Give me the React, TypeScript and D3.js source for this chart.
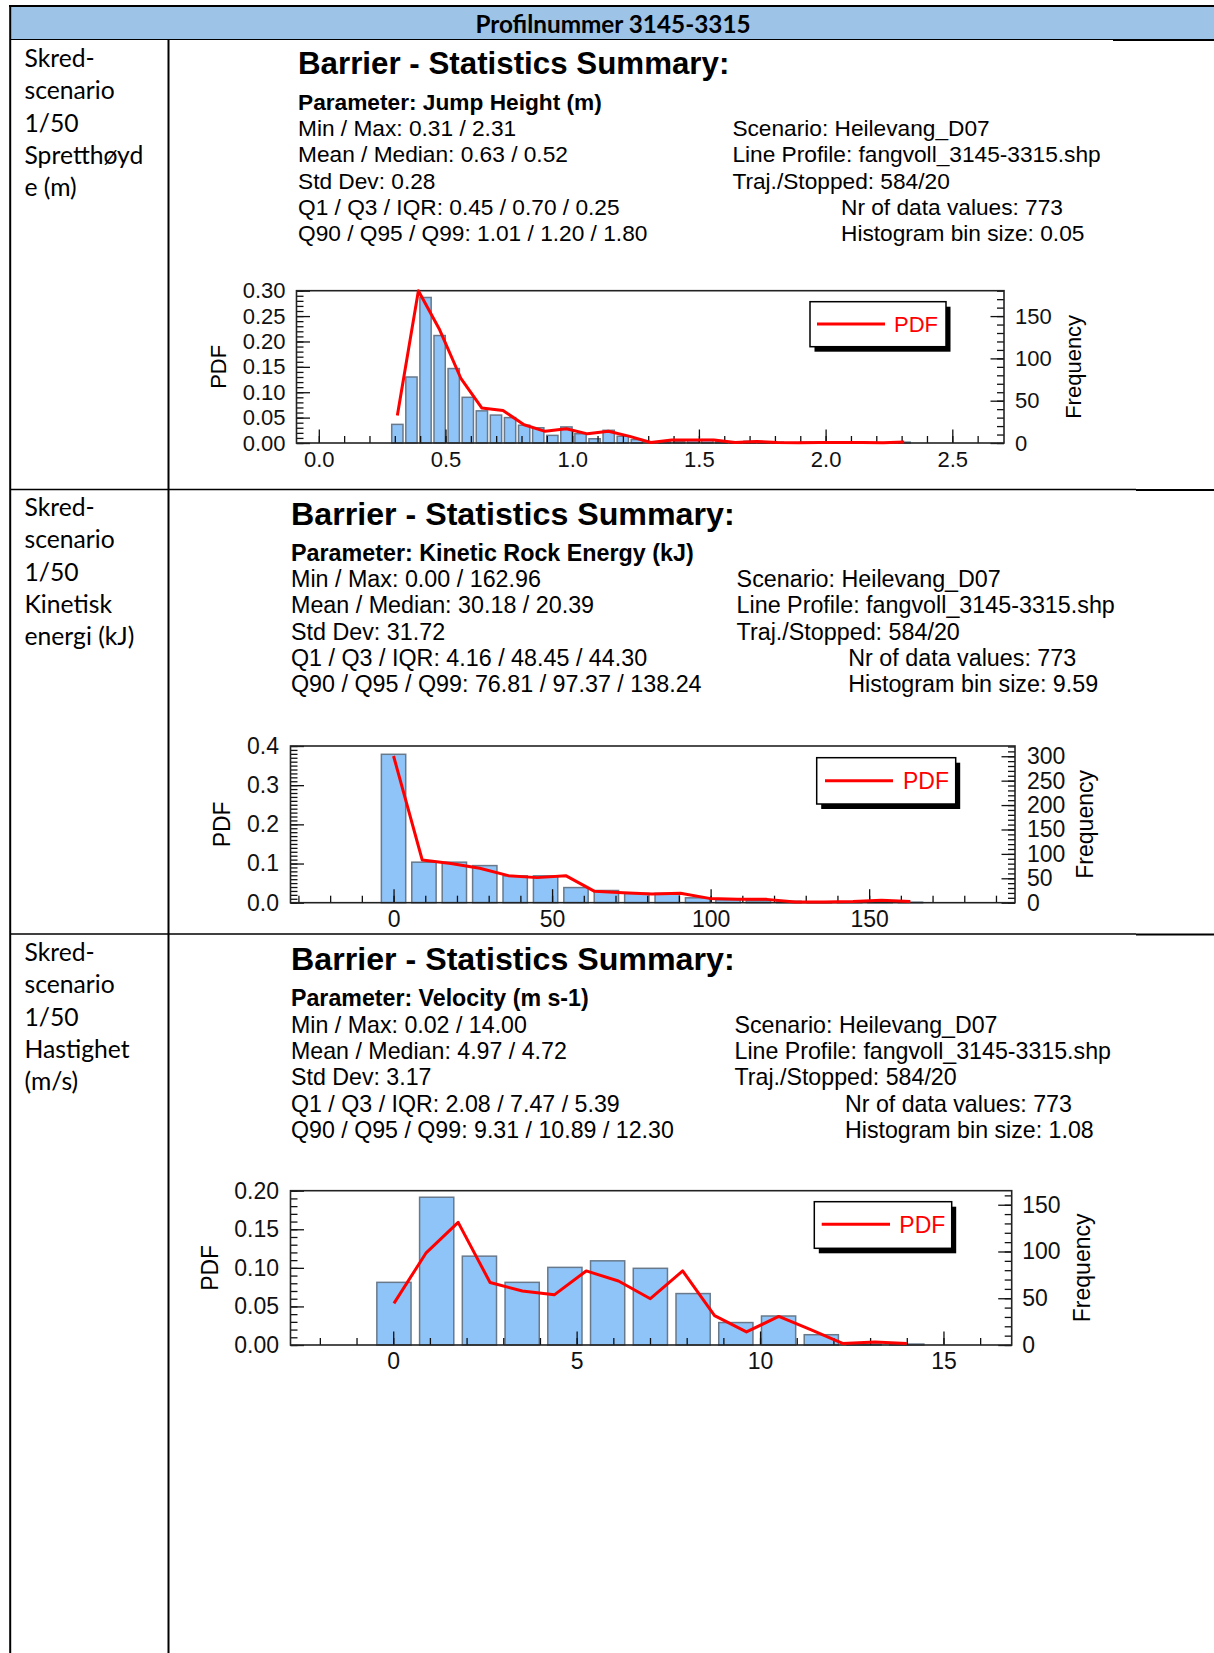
import React, { useEffect, useRef } from "react";
import * as d3 from "d3";

const W = 1214;
const H = 1653;

// ---------- table ----------
const headerText = "Profilnummer 3145-3315";
const rowLabels1 = ["Skred-", "scenario", "1/50", "Spretthøyd", "e (m)"];
const rowLabels2 = ["Skred-", "scenario", "1/50", "Kinetisk", "energi (kJ)"];
const rowLabels3 = ["Skred-", "scenario", "1/50", "Hastighet", "(m/s)"];

// ---------- shared chart text ----------
const chartTitle = "Barrier - Statistics Summary:";
const scenarioLines = [
  "Scenario: Heilevang_D07",
  "Line Profile: fangvoll_3145-3315.shp",
  "Traj./Stopped: 584/20",
];
const legendLabel = "PDF";
const leftAxisTitle = "PDF";
const rightAxisTitle = "Frequency";

// ---------- chart 1: jump height ----------
const jumpParam = "Parameter: Jump Height (m)";
const jumpStats = [
  "Min / Max: 0.31 / 2.31",
  "Mean / Median: 0.63 / 0.52",
  "Std Dev: 0.28",
  "Q1 / Q3 / IQR: 0.45 / 0.70 / 0.25",
  "Q90 / Q95 / Q99: 1.01 / 1.20 / 1.80",
];
const jumpCounts = ["Nr of data values: 773", "Histogram bin size: 0.05"];
const jumpBinStart = 0.31;
const jumpBinWidth = 0.0556;
const jumpFreq = [22, 78, 172, 127, 88, 54, 38, 33, 30, 21, 18, 9, 19, 11, 5, 15, 8, 4, 0, 2, 2, 3, 4, 2, 1, 2, 1, 1, 0, 1, 1, 0, 1, 1, 0, 0, 1];
const jumpPdfX = [0.31, 0.393, 0.477, 0.56, 0.643, 0.727, 0.81, 0.893, 0.977, 1.06, 1.143, 1.227, 1.31, 1.393, 1.477, 1.56, 1.643, 1.727, 1.81, 1.893, 1.977, 2.06, 2.143, 2.227, 2.31];
const jumpPdfY = [0.054, 0.3, 0.223, 0.128, 0.069, 0.064, 0.036, 0.023, 0.028, 0.018, 0.023, 0.013, 0.001, 0.006, 0.006, 0.006, 0.001, 0.003, 0.001, 0.0005, 0.001, 0.001, 0.001, 0.0005, 0.002];
const jumpXTicks = [0, 0.5, 1.0, 1.5, 2.0, 2.5];
const jumpPdfTicks = [0, 0.05, 0.1, 0.15, 0.2, 0.25, 0.3];
const jumpFreqTicks = [0, 50, 100, 150];

// ---------- chart 2: kinetic energy ----------
const energyParam = "Parameter: Kinetic Rock Energy (kJ)";
const energyStats = [
  "Min / Max: 0.00 / 162.96",
  "Mean / Median: 30.18 / 20.39",
  "Std Dev: 31.72",
  "Q1 / Q3 / IQR: 4.16 / 48.45 / 44.30",
  "Q90 / Q95 / Q99: 76.81 / 97.37 / 138.24",
];
const energyCounts = ["Nr of data values: 773", "Histogram bin size: 9.59"];
const energyBinStart = 0;
const energyBinWidth = 9.59;
const energyFreq = [304, 83, 83, 76, 55, 55, 31, 25, 19, 19, 10, 6, 4, 3, 1, 1, 2, 1];
const energyPdfX = [0, 9.05, 18.1, 27.2, 36.2, 45.3, 54.3, 63.4, 72.4, 81.5, 90.5, 99.6, 108.6, 117.7, 126.7, 135.8, 144.9, 153.9, 163.0];
const energyPdfY = [0.3745, 0.109, 0.1, 0.088, 0.069, 0.064, 0.069, 0.029, 0.0255, 0.022, 0.024, 0.011, 0.009, 0.0085, 0.002, 0.002, 0.003, 0.006, 0.003];
const energyXTicks = [0, 50, 100, 150];
const energyPdfTicks = [0, 0.1, 0.2, 0.3, 0.4];
const energyFreqTicks = [0, 50, 100, 150, 200, 250, 300];

// ---------- chart 3: velocity ----------
const velParam = "Parameter: Velocity (m s-1)";
const velStats = [
  "Min / Max: 0.02 / 14.00",
  "Mean / Median: 4.97 / 4.72",
  "Std Dev: 3.17",
  "Q1 / Q3 / IQR: 2.08 / 7.47 / 5.39",
  "Q90 / Q95 / Q99: 9.31 / 10.89 / 12.30",
];
const velCounts = ["Nr of data values: 773", "Histogram bin size: 1.08"];
const velBinStart = 0.02;
const velBinWidth = 1.165;
const velFreq = [67, 158, 95, 67, 83, 90, 82, 55, 24, 31, 11, 1, 1];
const velPdfX = [0.02, 0.89, 1.77, 2.64, 3.52, 4.39, 5.26, 6.14, 7.01, 7.89, 8.76, 9.63, 10.51, 11.38, 12.25, 13.13, 14.0];
const velPdfY = [0.054, 0.119, 0.159, 0.081, 0.07, 0.065, 0.096, 0.083, 0.06, 0.096, 0.038, 0.017, 0.037, 0.02, 0.002, 0.004, 0.002];
const velXTicks = [0, 5, 10, 15];
const velPdfTicks = [0, 0.05, 0.1, 0.15, 0.2];
const velFreqTicks = [0, 50, 100, 150];

const CHART_FONT = "'Liberation Sans', Arial, Helvetica, sans-serif";
const TABLE_FONT = "Lato, 'Open Sans', sans-serif";

type Cfg = {
  param: string;
  stats: string[];
  counts: string[];
  binStart: number;
  binWidth: number;
  freq: number[];
  pdfX: number[];
  pdfY: number[];
  xTicks: number[];
  xMinor: number[];
  pdfTicks: number[];
  pdfMinor: number[];
  freqTicks: number[];
  freqMinor: number[];
  xFmt: (v: number) => string;
  yFmt: (v: number) => string;
  xDomain: [number, number];
  pdfDomain: [number, number];
  freqDomain: [number, number];
  left: number; right: number; top: number; bottom: number;
  textX: number; titleY: number; paramY: number; statsY: number[];
  infoX: number; infoX2: number;
  titleSize: number; textSize: number; tickSize: number;
  xLabelBase: number; leftPad: number; rightPad: number;
  pdfTitleX: number; freqTitleX: number;
  legend: { x: number; y: number; w: number; h: number; lx1: number; lx2: number; ly: number; tx: number; ty: number };
};

const charts: Cfg[] = [
  {
    param: jumpParam, stats: jumpStats, counts: jumpCounts,
    binStart: jumpBinStart, binWidth: jumpBinWidth, freq: jumpFreq,
    pdfX: jumpPdfX, pdfY: jumpPdfY,
    xTicks: jumpXTicks, xMinor: d3.range(0, 2.66, 0.1),
    pdfTicks: jumpPdfTicks, pdfMinor: d3.range(0, 0.3001, 0.01),
    freqTicks: jumpFreqTicks, freqMinor: d3.range(0, 181, 10),
    xFmt: d3.format(".1f"), yFmt: d3.format(".2f"),
    xDomain: [-0.088, 2.704], pdfDomain: [0, 0.3], freqDomain: [0, 180],
    left: 296.5, right: 1004, top: 290.7, bottom: 443,
    textX: 298, titleY: 74, paramY: 110, statsY: [136, 162.3, 188.6, 215, 241.3],
    infoX: 732.4, infoX2: 841,
    titleSize: 31.3, textSize: 22.7, tickSize: 22,
    xLabelBase: 467, leftPad: 11, rightPad: 11,
    pdfTitleX: 226, freqTitleX: 1081,
    legend: { x: 810, y: 301.7, w: 136, h: 45, lx1: 817, lx2: 885, ly: 324, tx: 894, ty: 332 },
  },
  {
    param: energyParam, stats: energyStats, counts: energyCounts,
    binStart: energyBinStart, binWidth: energyBinWidth, freq: energyFreq,
    pdfX: energyPdfX, pdfY: energyPdfY,
    xTicks: energyXTicks, xMinor: d3.range(-30, 191, 10),
    pdfTicks: energyPdfTicks, pdfMinor: d3.range(0, 0.4001, 0.01),
    freqTicks: energyFreqTicks, freqMinor: d3.range(0, 321, 10),
    xFmt: d3.format("d"), yFmt: d3.format(".1f"),
    xDomain: [-32.5, 196], pdfDomain: [0, 0.4], freqDomain: [0, 321],
    left: 290.5, right: 1015, top: 746, bottom: 902.7,
    textX: 291, titleY: 524.8, paramY: 560.6, statsY: [587, 613.3, 639.7, 666, 692.3],
    infoX: 736.6, infoX2: 848.3,
    titleSize: 32.2, textSize: 23.3, tickSize: 23,
    xLabelBase: 927, leftPad: 11.5, rightPad: 12,
    pdfTitleX: 230, freqTitleX: 1093,
    legend: { x: 816.7, y: 757.7, w: 139, h: 46.3, lx1: 825, lx2: 893, ly: 780.7, tx: 903, ty: 789.3 },
  },
  {
    param: velParam, stats: velStats, counts: velCounts,
    binStart: velBinStart, binWidth: velBinWidth, freq: velFreq,
    pdfX: velPdfX, pdfY: velPdfY,
    xTicks: velXTicks, xMinor: d3.range(-2, 16.5, 1),
    pdfTicks: velPdfTicks, pdfMinor: d3.range(0, 0.2001, 0.01),
    freqTicks: velFreqTicks, freqMinor: d3.range(0, 161, 10),
    xFmt: d3.format("d"), yFmt: d3.format(".2f"),
    xDomain: [-2.8, 16.86], pdfDomain: [0, 0.2], freqDomain: [0, 165],
    left: 290.5, right: 1011.7, top: 1190.7, bottom: 1345,
    textX: 291, titleY: 969.5, paramY: 1006.4, statsY: [1032.7, 1059, 1085.4, 1111.8, 1138],
    infoX: 734.5, infoX2: 845,
    titleSize: 32.2, textSize: 23.2, tickSize: 23,
    xLabelBase: 1369, leftPad: 11.5, rightPad: 10.5,
    pdfTitleX: 218, freqTitleX: 1090,
    legend: { x: 814.3, y: 1201.7, w: 137.4, h: 46.6, lx1: 821.7, lx2: 890, ly: 1224.3, tx: 899.3, ty: 1233.3 },
  },
];

function drawTable(svg: d3.Selection<SVGSVGElement, unknown, null, undefined>) {
  const g = svg.append("g");
  g.append("rect").attr("x", 10).attr("y", 6).attr("width", W - 10).attr("height", 33.5).attr("fill", "#9dc3e6");
  const hline = (x1: number, x2: number, y: number, w: number) =>
    g.append("line").attr("x1", x1).attr("x2", x2).attr("y1", y).attr("y2", y).attr("stroke", "#000").attr("stroke-width", w);
  const vline = (x: number, y1: number, y2: number, w: number) =>
    g.append("line").attr("x1", x).attr("x2", x).attr("y1", y1).attr("y2", y2).attr("stroke", "#000").attr("stroke-width", w);
  hline(9, W, 6, 2.2);
  hline(10, 1113, 39.5, 1.2);
  hline(1113, W, 40, 2);
  hline(10, 1136, 489.5, 1.3);
  hline(1136, W, 490, 2);
  hline(10, 1136, 934, 1.3);
  hline(1136, W, 934.5, 2);
  vline(10.2, 5, H, 2);
  vline(168.5, 39, H, 2);

  g.append("text").attr("x", 613).attr("y", 32.5).attr("text-anchor", "middle")
    .attr("font-family", TABLE_FONT).attr("font-weight", "bold").attr("font-size", 24.3).attr("fill", "#000")
    .text(headerText);

  const rows: [string[], number][] = [[rowLabels1, 66.7], [rowLabels2, 515.7], [rowLabels3, 960.7]];
  rows.forEach(([lines, y0]) => {
    lines.forEach((s, i) => {
      g.append("text").attr("x", 24.5).attr("y", y0 + i * 32.4)
        .attr("font-family", TABLE_FONT).attr("font-size", 24.7).attr("fill", "#000").text(s);
    });
  });
}

function drawChart(root: d3.Selection<SVGSVGElement, unknown, null, undefined>, c: Cfg) {
  const g = root.append("g").attr("font-family", CHART_FONT);

  // header texts
  g.append("text").attr("x", c.textX).attr("y", c.titleY).attr("font-size", c.titleSize)
    .attr("font-weight", "bold").text(chartTitle);
  g.append("text").attr("x", c.textX).attr("y", c.paramY).attr("font-size", c.textSize)
    .attr("font-weight", "bold").text(c.param);
  c.stats.forEach((s, i) => {
    g.append("text").attr("x", c.textX).attr("y", c.statsY[i]).attr("font-size", c.textSize).text(s);
  });
  scenarioLines.forEach((s, i) => {
    g.append("text").attr("x", c.infoX).attr("y", c.statsY[i]).attr("font-size", c.textSize).text(s);
  });
  c.counts.forEach((s, i) => {
    g.append("text").attr("x", c.infoX2).attr("y", c.statsY[3 + i]).attr("font-size", c.textSize).text(s);
  });

  const x = d3.scaleLinear().domain(c.xDomain).range([c.left, c.right]);
  const y = d3.scaleLinear().domain(c.pdfDomain).range([c.bottom, c.top]);
  const yF = d3.scaleLinear().domain(c.freqDomain).range([c.bottom, c.top]);

  // bars
  const binPx = x(c.binWidth) - x(0);
  const bw = binPx * 0.8;
  const bars = c.freq
    .map((f, i) => ({ f, xc: c.binStart + i * c.binWidth }))
    .filter((d) => d.f > 0);
  g.append("g").selectAll("rect").data(bars).join("rect")
    .attr("x", (d) => x(d.xc) - bw / 2)
    .attr("y", (d) => yF(d.f))
    .attr("width", bw)
    .attr("height", (d) => yF(0) - yF(d.f))
    .attr("fill", "#8fc4f8")
    .attr("stroke", "#68798b")
    .attr("stroke-width", 1.5);

  const styleAxis = (ag: d3.Selection<SVGGElement, unknown, null, undefined>) => {
    ag.select(".domain").remove();
    ag.attr("font-family", CHART_FONT).attr("font-size", c.tickSize).attr("color", "#111");
    ag.selectAll(".tick line").attr("stroke-width", 1.3);
  };

  // bottom axis
  styleAxis(g.append("g").attr("transform", `translate(0,${c.bottom})`)
    .call(d3.axisBottom(x).tickValues(c.xMinor).tickSize(-7).tickSizeOuter(0).tickFormat(() => "")));
  styleAxis(g.append("g").attr("transform", `translate(0,${c.bottom})`)
    .call(d3.axisBottom(x).tickValues(c.xTicks).tickSize(-13.5).tickSizeOuter(0)
      .tickPadding(c.xLabelBase - c.bottom - 0.71 * c.tickSize).tickFormat((v) => c.xFmt(v as number))));

  // left axis
  styleAxis(g.append("g").attr("transform", `translate(${c.left},0)`)
    .call(d3.axisLeft(y).tickValues(c.pdfMinor).tickSize(-7).tickSizeOuter(0).tickFormat(() => "")));
  styleAxis(g.append("g").attr("transform", `translate(${c.left},0)`)
    .call(d3.axisLeft(y).tickValues(c.pdfTicks).tickSize(-13.5).tickSizeOuter(0)
      .tickPadding(c.leftPad).tickFormat((v) => c.yFmt(v as number))));

  // right axis
  styleAxis(g.append("g").attr("transform", `translate(${c.right},0)`)
    .call(d3.axisRight(yF).tickValues(c.freqMinor).tickSize(-7).tickSizeOuter(0).tickFormat(() => "")));
  styleAxis(g.append("g").attr("transform", `translate(${c.right},0)`)
    .call(d3.axisRight(yF).tickValues(c.freqTicks).tickSize(-13.5).tickSizeOuter(0)
      .tickPadding(c.rightPad).tickFormat((v) => d3.format("d")(v as number))));

  // frame
  g.append("rect").attr("x", c.left).attr("y", c.top).attr("width", c.right - c.left)
    .attr("height", c.bottom - c.top).attr("fill", "none").attr("stroke", "#222").attr("stroke-width", 1.6);

  // axis titles
  const midY = (c.top + c.bottom) / 2;
  g.append("text").attr("transform", `translate(${c.pdfTitleX},${midY}) rotate(-90)`)
    .attr("text-anchor", "middle").attr("font-size", c.tickSize).text(leftAxisTitle);
  g.append("text").attr("transform", `translate(${c.freqTitleX},${midY}) rotate(-90)`)
    .attr("text-anchor", "middle").attr("font-size", c.tickSize).text(rightAxisTitle);

  // PDF line
  const pts: [number, number][] = c.pdfX.map((v, i) => [v, c.pdfY[i]]);
  const line = d3.line<[number, number]>().x((d) => x(d[0])).y((d) => y(d[1]));
  g.append("path").datum(pts).attr("d", line).attr("fill", "none").attr("stroke", "#ff0000")
    .attr("stroke-width", 3).attr("stroke-linejoin", "round").attr("stroke-linecap", "butt");

  // legend
  const L = c.legend;
  g.append("rect").attr("x", L.x + 4.5).attr("y", L.y + 5).attr("width", L.w).attr("height", L.h).attr("fill", "#000");
  g.append("rect").attr("x", L.x).attr("y", L.y).attr("width", L.w).attr("height", L.h)
    .attr("fill", "#fff").attr("stroke", "#000").attr("stroke-width", 1.5);
  g.append("line").attr("x1", L.lx1).attr("x2", L.lx2).attr("y1", L.ly).attr("y2", L.ly)
    .attr("stroke", "#ff0000").attr("stroke-width", 3);
  g.append("text").attr("x", L.tx).attr("y", L.ty).attr("font-size", c.tickSize).attr("fill", "#ff0000").text(legendLabel);
}

export default function App() {
  const ref = useRef<SVGSVGElement>(null);
  useEffect(() => {
    if (!ref.current) return;
    const svg = d3.select(ref.current);
    svg.selectAll("*").remove();
    svg.append("rect").attr("width", W).attr("height", H).attr("fill", "#fff");
    drawTable(svg);
    charts.forEach((c) => drawChart(svg, c));
  }, []);
  return (
    <svg
      ref={ref}
      width={W}
      height={H}
      style={{ position: "absolute", left: 0, top: 0, display: "block" }}
    />
  );
}
